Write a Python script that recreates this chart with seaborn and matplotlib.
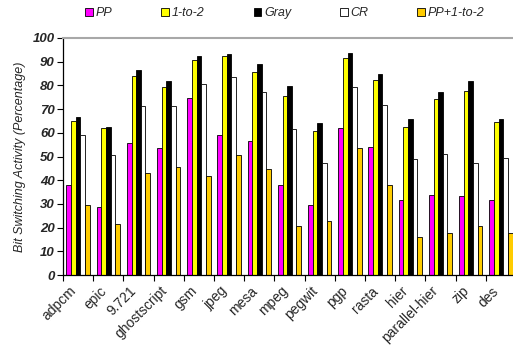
import matplotlib
matplotlib.use("Agg")
import matplotlib.pyplot as plt
import seaborn as sns
import pandas as pd
import numpy as np
from matplotlib.patches import Patch

benchmarks = ["adpcm", "epic", "9.721", "ghostscript", "gsm", "jpeg", "mesa", "mpeg",
              "pegwit", "pgp", "rasta", "hier", "parallel-hier", "zip", "des"]
series_names = ["PP", "1-to-2", "Gray", "CR", "PP+1-to-2"]

pp        = [38.0, 28.5, 55.5, 53.4, 74.5, 59.0, 56.7, 38.0, 29.5, 62.0, 53.9, 31.5, 33.6, 33.2, 31.5]
one_to_2  = [65.0, 62.0, 83.8, 79.3, 90.7, 92.2, 85.8, 75.4, 60.9, 91.4, 82.1, 62.4, 74.3, 77.8, 64.6]
gray      = [66.7, 62.4, 86.6, 81.8, 92.4, 93.2, 89.0, 79.7, 64.0, 93.8, 84.8, 66.0, 77.2, 81.9, 65.8]
cr        = [59.1, 50.6, 71.3, 71.2, 80.6, 83.4, 77.3, 61.5, 47.4, 79.2, 71.7, 48.8, 51.2, 47.4, 49.4]
pp_1to2   = [29.4, 21.4, 42.9, 45.6, 41.9, 50.6, 44.9, 20.8, 22.8, 53.4, 37.8, 15.9, 17.6, 20.8, 17.6]

colors = ["#FF00FF", "#FFFF00", "#000000", "#FFFFFF", "#FFCC00"]
y_ticks = list(range(0, 101, 10))

df = pd.DataFrame({
    "benchmark": benchmarks * 5,
    "series": np.repeat(series_names, len(benchmarks)),
    "value": pp + one_to_2 + gray + cr + pp_1to2,
})

sns.set_style("white")
plt.rcParams["font.family"] = ["Liberation Sans", "DejaVu Sans"]

fig = plt.figure(figsize=(5.13, 3.45), dpi=100)
ax = fig.add_axes([63 / 513, 1 - 275 / 345, 453 / 513, 237 / 345])

sns.barplot(data=df, x="benchmark", y="value", hue="series", order=benchmarks,
            hue_order=series_names, palette=colors, saturation=1, width=0.77, gap=0,
            edgecolor="black", linewidth=0.6, legend=False, ax=ax, errorbar=None)

ax.set_xlim(-0.5, len(benchmarks) - 0.5)
ax.set_ylim(0, 100)
ax.set_yticks(y_ticks)
ax.set_yticklabels([str(t) for t in y_ticks], fontsize=9.5, fontstyle="italic",
                   fontweight="bold")
ax.set_xlabel("")
ax.set_ylabel("Bit Switching Activity (Percentage)", fontsize=9, fontstyle="italic",
              labelpad=5)

# category names written below each group, tick marks at group boundaries
ax.set_xticks(range(len(benchmarks)))
ax.set_xticklabels([])
ax.tick_params(axis="x", which="major", length=0)
for i, name in enumerate(benchmarks):
    ax.annotate(name, xy=(i, 0), xycoords=("data", "axes fraction"),
                xytext=(-3, -10), textcoords="offset points",
                rotation=45, ha="right", va="center", rotation_mode="anchor",
                fontsize=10, annotation_clip=False)
ax.set_xticks(np.arange(-0.5, len(benchmarks), 1.0), minor=True)
ax.tick_params(axis="x", which="minor", length=4, width=0.8, color="black",
               direction="out", bottom=True)
ax.tick_params(axis="y", length=4, width=0.8, color="black", direction="out",
               left=True, pad=2)

for side in ["left", "bottom"]:
    ax.spines[side].set_color("black")
    ax.spines[side].set_linewidth(0.9)
ax.spines["top"].set_color("#A8A8A8")
ax.spines["top"].set_linewidth(1.5)
ax.spines["right"].set_visible(False)

handles = [Patch(facecolor=c, edgecolor="black", linewidth=0.6) for c in colors]
fig.legend(handles, series_names, loc="center", bbox_to_anchor=(285 / 513, 1 - 13 / 345),
           ncol=5, frameon=False, handlelength=0.6, handleheight=0.6,
           handletextpad=0.25, columnspacing=3.9,
           prop={"family": "Liberation Sans", "style": "italic", "size": 9})

fig.savefig("out.png", dpi=100)
